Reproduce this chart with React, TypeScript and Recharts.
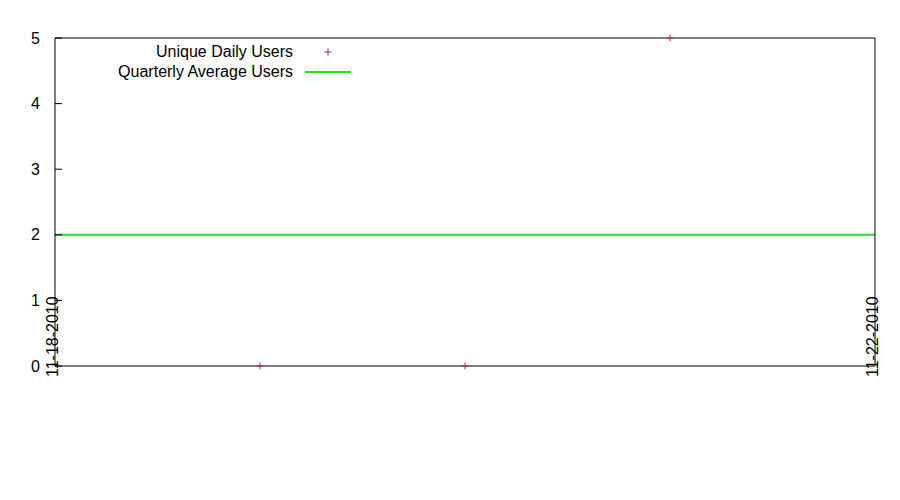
import { ComposedChart, Line, Scatter, XAxis, YAxis, Legend } from "recharts"

const DAYS = ["11-18-2010", "11-19-2010", "11-20-2010", "11-21-2010", "11-22-2010"]
const DAY_INDEX = [0, 1, 2, 3, 4]
const AVG_USERS = [2, 2, 2, 2, 2]
const DAILY_DAYS = [1, 2, 3]
const DAILY_USERS = [0, 0, 5]
const X_TICKS = [0, 4]
const Y_TICKS = [0, 1, 2, 3, 4, 5]

const avgData = DAY_INDEX.map((d, i) => ({ day: d, avg: AVG_USERS[i] }))
const dailyData = DAILY_DAYS.map((d, i) => ({ day: d, users: DAILY_USERS[i] }))

const FONT = "'Liberation Sans', Arial, sans-serif"
const FONT_SIZE = 16
const RED = "#c8203a"
const GREEN = "#22dd22"

function Plus(props: any) {
  const { cx, cy } = props
  if (cx == null || cy == null) return null
  return (
    <g stroke={RED} strokeWidth={1}>
      <line x1={cx - 3.5} y1={cy} x2={cx + 3.5} y2={cy} />
      <line x1={cx} y1={cy - 3.5} x2={cx} y2={cy + 3.5} />
    </g>
  )
}

function DateTick(props: any) {
  const { x, payload } = props
  const tx = x + 3
  const ty = 377
  return (
    <text
      x={tx}
      y={ty}
      transform={`rotate(-90 ${tx} ${ty})`}
      textAnchor="start"
      fontSize={FONT_SIZE}
      fontFamily={FONT}
      fill="#000"
    >
      {DAYS[payload.value]}
    </text>
  )
}

function KeyBox() {
  const row = { display: "flex", alignItems: "center", height: 20 }
  const label = { width: 238, textAlign: "right" as const, paddingRight: 12 }
  return (
    <div style={{ fontFamily: FONT, fontSize: FONT_SIZE, color: "#000", lineHeight: "20px" }}>
      <div style={row}>
        <span style={label}>Unique Daily Users</span>
        <svg width={46} height={20}>
          <line x1={19.5} y1={10} x2={26.5} y2={10} stroke={RED} />
          <line x1={23} y1={6.5} x2={23} y2={13.5} stroke={RED} />
        </svg>
      </div>
      <div style={row}>
        <span style={label}>Quarterly Average Users</span>
        <svg width={46} height={20}>
          <line x1={0} y1={10} x2={46} y2={10} stroke={GREEN} strokeWidth={2} />
        </svg>
      </div>
    </div>
  )
}

export default function App() {
  return (
    <div style={{ position: "absolute", left: 0, top: 0, width: 900, height: 500, background: "#fff" }}>
      <ComposedChart
        width={900}
        height={500}
        data={avgData}
        margin={{ top: 37, right: 24, left: 0, bottom: 0 }}
      >
        <XAxis
          xAxisId="bottom"
          type="number"
          dataKey="day"
          domain={[0, 4]}
          ticks={X_TICKS}
          height={134}
          axisLine={{ stroke: "#000", strokeWidth: 1 }}
          tickLine={false}
          tick={<DateTick />}
          interval={0}
        />
        <XAxis
          xAxisId="top"
          orientation="top"
          type="number"
          dataKey="day"
          domain={[0, 4]}
          height={1}
          axisLine={{ stroke: "#000", strokeWidth: 1 }}
          tick={false}
          tickLine={false}
        />
        <YAxis
          yAxisId="left"
          type="number"
          domain={[0, 5]}
          ticks={Y_TICKS}
          width={55}
          axisLine={{ stroke: "#000", strokeWidth: 1 }}
          tickLine={{ stroke: "#000" }}
          tickSize={-7}
          tickMargin={22}
          tick={{ fill: "#000", fontSize: FONT_SIZE, fontFamily: FONT }}
          interval={0}
        />
        <YAxis
          yAxisId="right"
          orientation="right"
          type="number"
          domain={[0, 5]}
          ticks={Y_TICKS}
          width={1}
          axisLine={{ stroke: "#000", strokeWidth: 1 }}
          tickLine={{ stroke: "#000" }}
          tickSize={-7}
          tick={false}
          interval={0}
        />
        <Legend
          layout="horizontal"
          verticalAlign="middle"
          align="center"
          wrapperStyle={{ top: 42, left: 55, width: 300 }}
          content={<KeyBox />}
        />
        <Line
          xAxisId="bottom"
          yAxisId="left"
          dataKey="avg"
          name="Quarterly Average Users"
          stroke={GREEN}
          strokeWidth={2}
          dot={false}
          activeDot={false}
          isAnimationActive={false}
        />
        <Scatter
          xAxisId="bottom"
          yAxisId="left"
          data={dailyData}
          dataKey="users"
          name="Unique Daily Users"
          shape={<Plus />}
          isAnimationActive={false}
        />
      </ComposedChart>
    </div>
  )
}
